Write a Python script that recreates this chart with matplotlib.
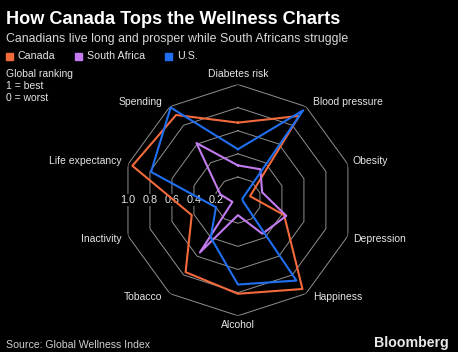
import numpy as np
import matplotlib
matplotlib.use("Agg")
import matplotlib.pyplot as plt

# donnees (classement global, 1 = meilleur)
categories = ["Diabetes risk", "Blood pressure", "Obesity", "Depression", "Happiness",
              "Alcohol", "Tobacco", "Inactivity", "Life expectancy", "Spending"]
canada = [0.67, 0.90, 0.11, 0.42, 0.95, 0.81, 0.77, 0.42, 0.96, 0.91]
south_africa = [0.30, 0.33, 0.22, 0.44, 0.36, 0.13, 0.56, 0.05, 0.16, 0.61]
us = [0.44, 0.96, 0.04, 0.05, 0.86, 0.73, 0.40, 0.20, 0.79, 0.99]
rings = [0.2, 0.4, 0.6, 0.8, 1.0]
ring_labels = ["0.2", "0.4", "0.6", "0.8", "1.0"]

orange = "#F26A3C"
purple = "#C37BF0"
blue = "#1F6FF0"
bg = "#000000"
fam = ["Liberation Sans", "DejaVu Sans"]

plt.rcParams["font.family"] = fam

fig = plt.figure(figsize=(4.58, 3.52), dpi=100, facecolor=bg)
ax = fig.add_axes([0.267, 0.103, 0.505, 0.657], projection="polar", facecolor=bg)
ax.set_theta_zero_location("N")
ax.set_theta_direction(-1)
ax.set_ylim(0, 1)
ax.grid(False)
ax.spines["polar"].set_visible(False)
ax.set_xticks([])
ax.set_yticks([])

n = len(categories)
angles = np.linspace(0, 2 * np.pi, n, endpoint=False)
closed = np.append(angles, angles[0])

# grille en decagone
for r in rings:
    ax.plot(closed, [r] * (n + 1), color="#909090", lw=0.7, zorder=1)

# etiquettes des anneaux, a gauche
for r, lab in zip(rings, ring_labels):
    ax.text(1.5 * np.pi, r * np.cos(np.pi / n), lab, color="#e6e6e6", fontsize=7.8,
            ha="center", va="center", zorder=2,
            bbox=dict(boxstyle="square,pad=0.1", fc=bg, ec="none"))

# series
for vals, col in [(canada, orange), (south_africa, purple), (us, blue)]:
    ax.plot(closed, vals + [vals[0]], color=col, lw=1.5, zorder=3)

# etiquettes des categories
offsets = {
    "Diabetes risk": (0, 10, "center"),
    "Blood pressure": (7, 5, "left"),
    "Obesity": (5, 3, "left"),
    "Depression": (5, -3, "left"),
    "Happiness": (7, -3, "left"),
    "Alcohol": (0, -9, "center"),
    "Tobacco": (-8, -3, "right"),
    "Inactivity": (-6, -3, "right"),
    "Life expectancy": (-6, 3, "right"),
    "Spending": (-8, 5, "right"),
}
for ang, cat in zip(angles, categories):
    dx, dy, ha = offsets[cat]
    ax.annotate(cat, xy=(ang, 1.0), xytext=(dx, dy), textcoords="offset pixels",
                color="#e6e6e6", fontsize=7.5, ha=ha, va="center")

W, H = 458, 352


def px(x, y):
    return x / W, 1 - y / H


fig.text(*px(6, 20), "How Canada Tops the Wellness Charts", color="white",
         fontsize=13.1, fontweight="bold", va="center", ha="left")
fig.text(*px(6, 39), "Canadians live long and prosper while South Africans struggle",
         color="#d8d8d8", fontsize=8.9, va="center", ha="left")

# legende
for x0, col, lab in [(6, orange, "Canada"), (75, purple, "South Africa"), (165, blue, "U.S.")]:
    fig.patches.append(plt.Rectangle(px(x0, 60), 7 / W, 7 / H, color=col,
                                     transform=fig.transFigure, figure=fig))
    fig.text(*px(x0 + 12, 56), lab, color="#e6e6e6", fontsize=7.7, va="center", ha="left")

fig.text(*px(6, 74), "Global ranking", color="#e6e6e6", fontsize=7.5, va="center")
fig.text(*px(6, 86), "1 = best", color="#e6e6e6", fontsize=7.5, va="center")
fig.text(*px(6, 98), "0 = worst", color="#e6e6e6", fontsize=7.5, va="center")

fig.text(*px(6, 345), "Source: Global Wellness Index", color="#cfcfcf", fontsize=7.6,
         va="center", ha="left")
fig.text(*px(449, 343), "Bloomberg", color="#e8e8e8", fontsize=10.2, fontweight="bold",
         va="center", ha="right")

fig.savefig("out.png", dpi=100, facecolor=bg)
